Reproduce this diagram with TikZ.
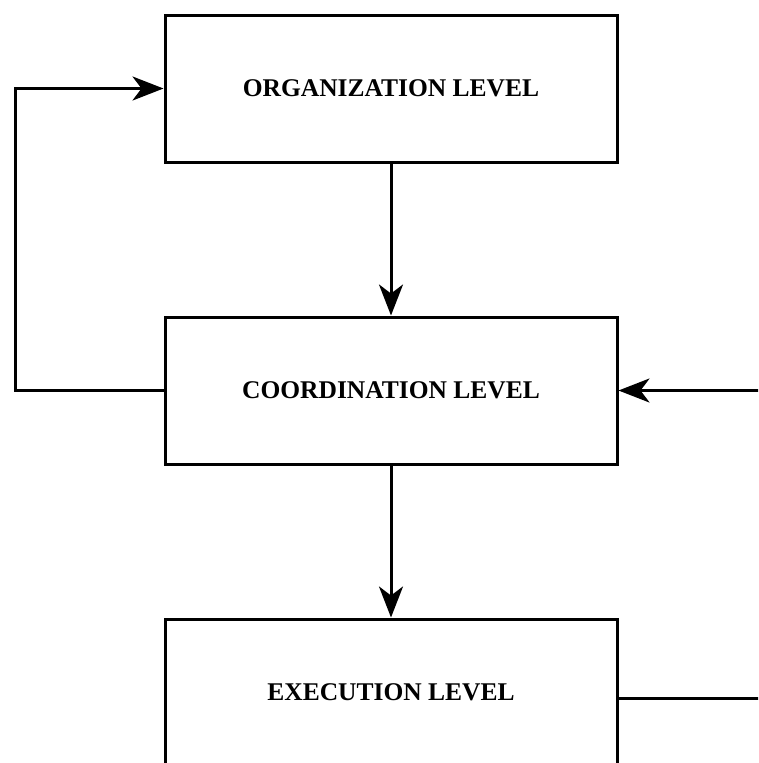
\documentclass[tikz,border=0pt]{standalone}
\usepackage{fontspec}
\setmainfont{Liberation Serif}
\usetikzlibrary{positioning,arrows.meta}

\begin{document}
\begin{tikzpicture}[x=1pt,y=1pt,node distance=152pt,line width=3pt,
	level/.style={draw,minimum width=452pt,minimum height=147pt,font=\bfseries\fontsize{25.5}{28}\selectfont},
	>={Stealth[length=31pt,width=24pt,inset=9pt]}]
	\useasboundingbox (0,0) rectangle (758,-763);
	\clip (0,0) rectangle (758,-763);
	\node[level] (org) at (391,-88.5) {ORGANIZATION LEVEL};
	\node[level] (coord) [below=of org] {COORDINATION LEVEL};
	\node[level] (exec) [below=of coord] {EXECUTION LEVEL};
	\coordinate (fbl) at (15,0);
	\coordinate (fbr) at (770,0);
	\path[->]
	(org) edge (coord)
	(coord) edge (exec);
	\draw[->] (coord.west) -| (fbl |- org) -- (org.west);
	\draw[->] (fbr |- coord) -- (coord.east);
	\draw (exec.east |- 0,-698) -- (fbr |- 0,-698);
\end{tikzpicture}
\end{document}
